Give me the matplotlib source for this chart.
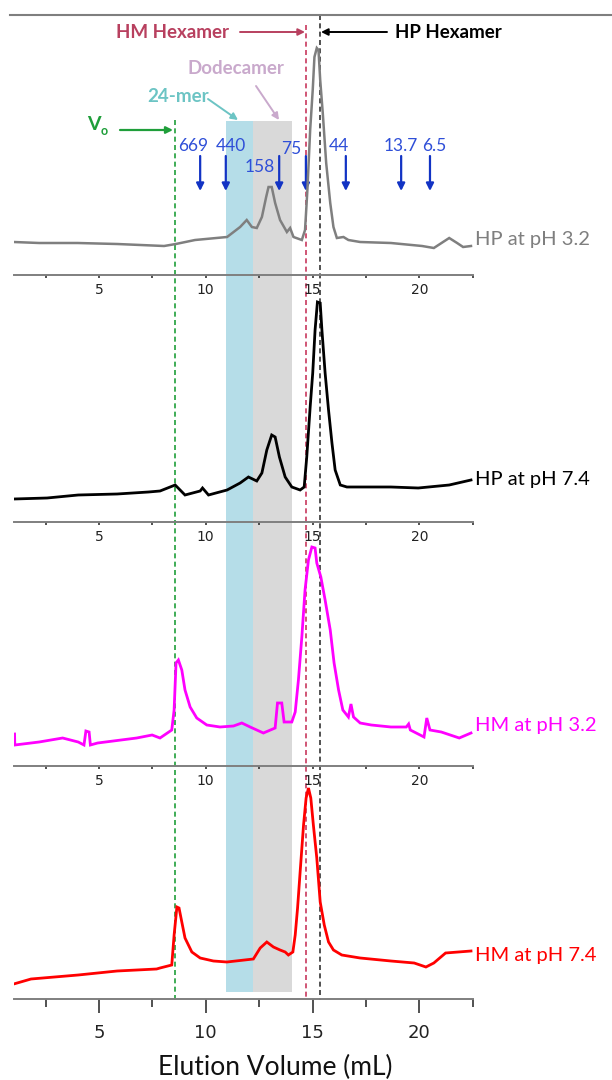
import matplotlib.pyplot as plt
from matplotlib.ticker import MultipleLocator

# ---- data (elution volume in mL, absorbance in arbitrary units) ----
hp32_x = [1.01, 2.2, 4.0, 5.85, 8.05, 8.6, 9.5, 11.0, 11.61, 11.92, 12.16, 12.39, 12.63,
          12.83, 12.94, 13.09, 13.25, 13.48, 13.8, 13.95, 14.11, 14.5, 14.65, 14.76,
          14.89, 15.01, 15.09, 15.2, 15.28, 15.36, 15.48, 15.64, 15.83, 15.98, 16.14,
          16.45, 16.68, 17.23, 18.67, 20.13, 20.68, 21.4, 21.77, 22.05, 22.42]
hp32_y = [33, 32, 32, 31, 29, 31, 35, 38, 48, 55, 48, 47, 58,
          78, 88, 88, 72, 55, 43, 47, 38, 35, 45, 85,
          145, 185, 218, 227, 225, 195, 162, 112, 72, 48, 37,
          38, 35, 33, 32, 29, 27, 37, 32, 28, 29]

hp74_x = [1.01, 2.57, 4.03, 5.85, 7.32, 7.86, 8.57, 8.8, 9.03, 9.74, 9.85, 10.13,
          11.0, 11.61, 12.0, 12.39, 12.63, 12.86, 13.09, 13.25, 13.45, 13.72, 14.03,
          14.42, 14.61, 14.73, 14.89, 15.01, 15.12, 15.23, 15.36, 15.44, 15.59, 15.75,
          15.91, 16.06, 16.3, 16.61, 17.23, 18.67, 19.95, 21.4, 22.42]
hp74_y = [23, 24, 27, 28, 30, 31, 37, 32, 27, 31, 34, 27,
          32, 39, 45, 41, 49, 72, 87, 85, 65, 45, 35,
          32, 35, 65, 115, 149, 192, 220, 219, 192, 149, 112,
          79, 52, 37, 35, 35, 35, 34, 37, 42]

hm32_x = [1.05, 1.06, 2.2, 3.3, 4.03, 4.3, 4.39, 4.54, 4.6, 4.94, 6.77, 7.49, 7.86,
          8.41, 8.52, 8.61, 8.72, 8.88, 9.03, 9.27, 9.58, 10.05, 10.67, 11.3, 11.69,
          12.08, 12.7, 13.25, 13.36, 13.56, 13.67, 14.03, 14.19, 14.34, 14.5, 14.65,
          14.81, 14.97, 15.12, 15.2, 15.39, 15.59, 15.83, 16.01, 16.22, 16.42, 16.68,
          16.8, 16.92, 17.23, 17.75, 18.67, 19.39, 19.5, 19.58, 20.22, 20.35, 20.5,
          21.03, 21.87, 22.42]
hm32_y = [32, 21, 24, 28, 24, 21, 35, 34, 21, 23, 28, 31, 28,
          36, 56, 103, 106, 96, 76, 59, 48, 41, 39, 40, 43,
          39, 33, 38, 63, 63, 44, 44, 54, 86, 129, 176,
          206, 219, 218, 203, 189, 166, 136, 103, 76, 56, 49,
          62, 49, 43, 41, 39, 39, 42, 36, 29, 48, 36,
          34, 28, 33]

hm74_x = [1.01, 1.82, 4.03, 5.85, 7.7, 7.86, 8.41, 8.52, 8.65, 8.75, 8.88, 9.03, 9.35,
          9.74, 10.36, 10.99, 12.23, 12.55, 12.86, 13.17, 13.48, 13.72, 13.87, 14.08,
          14.19, 14.3, 14.42, 14.58, 14.7, 14.81, 14.92, 15.04, 15.2, 15.36, 15.55,
          15.75, 15.98, 16.37, 17.23, 18.67, 19.76, 20.31, 20.68, 21.23, 22.42]
hm74_y = [15, 20, 24, 28, 30, 31, 34, 64, 92, 91, 77, 61, 47,
          41, 38, 37, 40, 51, 57, 52, 49, 47, 44, 47,
          64, 91, 127, 174, 201, 211, 201, 174, 141, 97, 74,
          57, 49, 44, 41, 38, 36, 32, 36, 46, 48]

traces = [(hp32_x, hp32_y), (hp74_x, hp74_y), (hm32_x, hm32_y), (hm74_x, hm74_y)]
trace_labels = ['HP at pH 3.2', 'HP at pH 7.4', 'HM at pH 3.2', 'HM at pH 7.4']
trace_colors = ['#7f7f7f', '#000000', '#ff00ff', '#ff0000']

# calibration standards (kDa) and their elution volumes
mw_labels = ['669', '440', '158', '75', '44', '13.7', '6.5']
mw_elution = [9.74, 10.94, 13.44, 14.69, 16.56, 19.15, 20.5]

v_void = 8.57
hm_hexamer = 14.69
hp_hexamer = 15.33
band_24mer = (10.94, 12.21)
band_dodecamer = (12.21, 14.06)

# ---- layout (pixels of the 612x1080 image) ----
W, H = 612, 1080
X0, X1 = 13.5, 472.7
XLIM = (1.0, 22.5)
panel_tops = [15, 275, 522, 766]
panel_bottoms = [275, 522, 766, 999]
label_y = [240, 480, 725, 955]


def fx(px):
    return px / W


def fy(py):
    return 1 - py / H


def ml(px):
    return XLIM[0] + (px - X0) / (X1 - X0) * (XLIM[1] - XLIM[0])


fig = plt.figure(figsize=(6.12, 10.8), dpi=100)
FONT = ['Lato', 'DejaVu Sans']

# background layer: shaded bands, guide lines, annotations
bg = fig.add_axes([fx(X0), 0, fx(X1) - fx(X0), 1])
bg.set_xlim(XLIM)
bg.set_ylim(H, 0)
bg.axis('off')
bg.set_zorder(0)

bg.fill_between(band_24mer, 121, 992, color='#b5dde8', lw=0)
bg.fill_between(band_dodecamer, 121, 992, color='#d9d9d9', lw=0)
bg.vlines(v_void, 120, 1000, colors='#1f9e3a', linestyles=(0, (3, 2)), lw=1.2)
bg.vlines(hm_hexamer, 25, 1000, colors='#c8385e', linestyles=(0, (3, 2)), lw=1.2)
bg.vlines(hp_hexamer, 15, 1000, colors='#333333', linestyles=(0, (3, 2)), lw=1.2)

# molecular weight markers
mw_dx = [-7, 5, -19, -15, -7, 0, 4]
mw_ty = [146, 146, 167, 149, 146, 146, 146]
for lab, e, dx, ty in zip(mw_labels, mw_elution, mw_dx, mw_ty):
    bg.annotate('', xy=(e, 191), xytext=(e, 156),
                arrowprops=dict(arrowstyle='-|>', color='#1233c4', lw=1.6,
                                mutation_scale=11, shrinkA=0, shrinkB=0))
    bg.text(e + dx / 21.35, ty, lab, color='#2f4fd8', fontsize=12.5,
            family=FONT, ha='center', va='center')

# top rule
fig.add_artist(plt.Line2D([fx(10), 1], [fy(15), fy(15)], color='#7f7f7f', lw=1.5))

# hexamer labels
fig.text(fx(172), fy(33), 'HM Hexamer', color='#b8405f', fontsize=13.5,
         fontweight='bold', family=FONT, ha='center', va='center')
fig.text(fx(448), fy(33), 'HP Hexamer', color='#000000', fontsize=13.5,
         fontweight='bold', family=FONT, ha='center', va='center')
bg.annotate('', xy=(ml(305), 32), xytext=(ml(240), 32),
            arrowprops=dict(arrowstyle='-|>', color='#b8405f', lw=1.4,
                            mutation_scale=10, shrinkA=0, shrinkB=0))
bg.annotate('', xy=(ml(321), 32), xytext=(ml(387), 32),
            arrowprops=dict(arrowstyle='-|>', color='#000000', lw=1.4,
                            mutation_scale=10, shrinkA=0, shrinkB=0))

fig.text(fx(236), fy(68), 'Dodecamer', color='#c9a9cc', fontsize=13.5,
         fontweight='bold', family=FONT, ha='center', va='center')
bg.annotate('', xy=(ml(279), 120), xytext=(ml(256), 86),
            arrowprops=dict(arrowstyle='-|>', color='#c9a9cc', lw=1.4,
                            mutation_scale=10, shrinkA=0, shrinkB=0))
fig.text(fx(178), fy(97), '24-mer', color='#6cc4c4', fontsize=13.5,
         fontweight='bold', family=FONT, ha='center', va='center')
bg.annotate('', xy=(ml(238), 120), xytext=(ml(208), 99),
            arrowprops=dict(arrowstyle='-|>', color='#6cc4c4', lw=1.4,
                            mutation_scale=10, shrinkA=0, shrinkB=0))

fig.text(fx(87), fy(125), 'V', color='#1f9e3a', fontsize=14,
         fontweight='bold', family=FONT, ha='left', va='center')
fig.text(fx(101), fy(131), 'o', color='#1f9e3a', fontsize=9,
         fontweight='bold', family=FONT, ha='left', va='center')
bg.annotate('', xy=(ml(173), 130), xytext=(ml(120), 130),
            arrowprops=dict(arrowstyle='-|>', color='#1f9e3a', lw=1.6,
                            mutation_scale=10, shrinkA=0, shrinkB=0))

# stacked chromatograms
for i, ((x, y), lab, col) in enumerate(zip(traces, trace_labels, trace_colors)):
    top, bot = panel_tops[i], panel_bottoms[i]
    ax = fig.add_axes([fx(X0), fy(bot), fx(X1) - fx(X0), (bot - top) / H])
    ax.set_zorder(1)
    ax.patch.set_alpha(0)
    ax.set_xlim(XLIM)
    ax.set_ylim(0, bot - top)
    ax.plot(x, y, color=col, lw=2.0 if i else 1.8, solid_joinstyle='miter')
    for s in ['top', 'left', 'right']:
        ax.spines[s].set_visible(False)
    ax.spines['bottom'].set_color('#7f7f7f')
    ax.spines['bottom'].set_linewidth(1.4)
    ax.set_yticks([])
    ax.xaxis.set_major_locator(MultipleLocator(5))
    ax.xaxis.set_minor_locator(MultipleLocator(2.5))
    last = i == len(traces) - 1
    ax.tick_params(axis='x', which='major', direction='out', color='#333333',
                   length=10 if last else 2.5, width=1.2,
                   labelsize=13 if last else 10, pad=8 if last else 3,
                   labelcolor='#222222')
    ax.tick_params(axis='x', which='minor', direction='out', color='#333333',
                   length=6 if last else 2, width=1.2)
    fig.text(fx(475), fy(label_y[i]), lab, color=col, fontsize=14.5,
             family=FONT, ha='left', va='center')

fig.text(fx(275), fy(1067), 'Elution Volume (mL)', color='#111111',
         fontsize=19, family=FONT, ha='center', va='center')

fig.savefig('out.png', dpi=100)
